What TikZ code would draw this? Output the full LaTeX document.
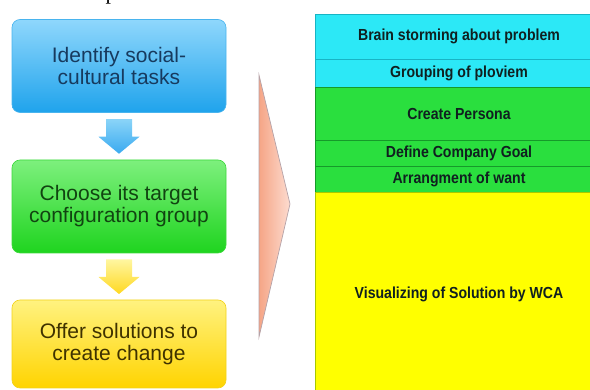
\documentclass[tikz,border=0pt]{standalone}
\usepackage{fontspec}
\setmainfont{Liberation Sans}
\newfontfamily\tabfont{Liberation Sans}[FakeStretch=0.88,BoldFeatures={FakeStretch=0.88}]
\newfontfamily\serifcap{Liberation Serif}
\usetikzlibrary{calc}

\definecolor{bluetop}{HTML}{8FD7FC}
\definecolor{bluebot}{HTML}{1FA3EC}
\definecolor{blueedge}{HTML}{49B4EE}
\definecolor{bluetext}{HTML}{173A5E}
\definecolor{greentop}{HTML}{7DF07D}
\definecolor{greenbot}{HTML}{1FD41F}
\definecolor{greenedge}{HTML}{3CD83C}
\definecolor{greentext}{HTML}{114411}
\definecolor{yellowtop}{HTML}{FFF280}
\definecolor{yellowbot}{HTML}{FFD400}
\definecolor{yellowedge}{HTML}{F2D21A}
\definecolor{yellowtext}{HTML}{3F3200}
\definecolor{arrowbluetop}{HTML}{8AD4F8}
\definecolor{arrowbluebot}{HTML}{3AAAF0}
\definecolor{arrowyeltop}{HTML}{FFF6A0}
\definecolor{arrowyelbot}{HTML}{FFD820}
\definecolor{wedgeleft}{HTML}{F5A586}
\definecolor{wedgeright}{HTML}{FDDCD0}
\definecolor{wedgeedge}{HTML}{B4A2A8}
\definecolor{cyanfill}{HTML}{2CE8F6}
\definecolor{cyanedge}{HTML}{18B4C4}
\definecolor{grnfill}{HTML}{2ADF3E}
\definecolor{grnedge}{HTML}{169A2A}
\definecolor{yelfill}{HTML}{FFFF00}
\definecolor{yeledge}{HTML}{A8C800}
\definecolor{tabtext}{HTML}{102020}

\tikzset{
  stepbox/.style={rounded corners=8pt, minimum width=214pt, minimum height=93pt,
    align=center, inner sep=0pt, line width=0.6pt,
    font=\fontsize{21}{22}\selectfont},
  tabrow/.style={minimum width=288pt, inner sep=0pt, line width=0.8pt,
    text=tabtext, font=\tabfont\bfseries\fontsize{16}{18}\selectfont}
}
% block arrow pointing down, centred on a given coordinate
\newcommand\blockarrowdown[1]{%
  ($(#1)+(-13,-17)$) -- ($(#1)+(13,-17)$) -- ($(#1)+(13,0.5)$) --
  ($(#1)+(20.5,0.5)$) -- ($(#1)+(0,17.5)$) -- ($(#1)+(-20.5,0.5)$) --
  ($(#1)+(-13,0.5)$) -- cycle}

\begin{document}
\begin{tikzpicture}[x=1pt,y=-1pt]
\useasboundingbox (0,0) rectangle (590,390);
\clip (0,0) rectangle (590,390);

% tail of a letter from the line above
\node[anchor=base west, inner sep=0pt, font=\serifcap\fontsize{22}{24}\selectfont] (frag) at (105.5,0) {p};

% process steps
\node[stepbox, top color=bluetop, bottom color=bluebot, draw=blueedge, text=bluetext]
  (s1) at (119,66) {Identify social-\\cultural tasks};
\node[stepbox, top color=greentop, bottom color=greenbot, draw=greenedge, text=greentext]
  (s2) at (119,206.5) {Choose its target\\configuration group};
\node[stepbox, minimum height=88pt, top color=yellowtop, bottom color=yellowbot, draw=yellowedge, text=yellowtext]
  (s3) at (119,344) {Offer solutions to\\create change};

% arrows between steps
\coordinate (m1) at ($(s1.south)!0.5!(s2.north)$);
\coordinate (m2) at ($(s2.south)!0.5!(s3.north)$);
\path[top color=arrowbluetop, bottom color=arrowbluebot] \blockarrowdown{m1};
\path[top color=arrowyeltop, bottom color=arrowyelbot] \blockarrowdown{m2};

% wedge pointing to the detailed table
\draw[line width=0.7pt, draw=wedgeedge, left color=wedgeleft, right color=wedgeright]
  (259,75) -- (290,204) -- (259,337) -- cycle;

% detailed activity table
\node[tabrow, fill=cyanfill, draw=cyanedge, minimum height=45pt] (r1) at (459,36.5) {Brain storming about problem};
\node[tabrow, fill=cyanfill, draw=cyanedge, minimum height=28pt] (r2) at (459,73) {Grouping of ploviem};
\node[tabrow, fill=grnfill, draw=grnedge, minimum height=53pt] (r3) at (459,113.5) {Create Persona};
\node[tabrow, fill=grnfill, draw=grnedge, minimum height=26pt] (r4) at (459,153) {Define Company Goal};
\node[tabrow, fill=grnfill, draw=grnedge, minimum height=26pt] (r5) at (459,179) {Arrangment of want};
\node[tabrow, fill=yelfill, draw=yeledge, minimum height=204pt] (r6) at (459,294) {Visualizing of Solution by WCA};
\end{tikzpicture}
\end{document}
